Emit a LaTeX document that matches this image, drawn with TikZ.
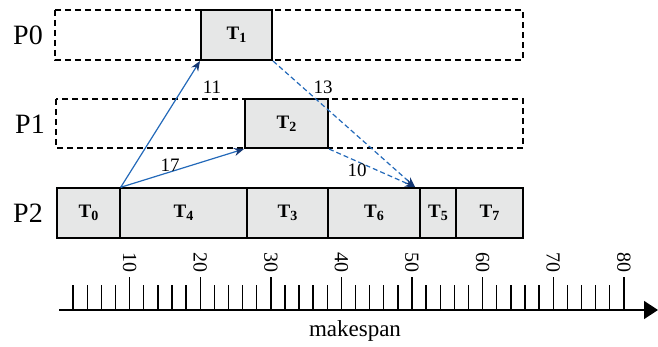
\documentclass[tikz,border=0pt]{standalone}
\usepackage{fontspec}
\setmainfont{Liberation Serif}
\usetikzlibrary{arrows.meta}

\definecolor{arcblue}{RGB}{35,105,185}
\definecolor{tipblue}{RGB}{20,55,115}
\definecolor{taskgray}{RGB}{230,231,231}

\newcommand{\tk}[1]{\textbf{T\raisebox{-0.35ex}{\fontsize{7}{8}\selectfont #1}}}

\tikzset{
  slot/.style={draw, dashed, dash pattern=on 3pt off 2pt, line width=0.7pt},
  task/.style={draw, fill=taskgray, line width=0.7pt, minimum height=25pt,
    inner sep=0pt, font=\fontsize{9.5}{10}\selectfont},
  hot/.style={task, line width=1pt},
  proc/.style={font=\fontsize{14}{16}\selectfont},
  comm/.style={arcblue, line width=0.6pt, -{Stealth[length=5pt, width=4pt, color=tipblue, fill=tipblue]}},
  commd/.style={comm, dash pattern=on 2.5pt off 1.5pt},
  cost/.style={font=\fontsize{9.5}{10}\selectfont, inner sep=1pt},
  ticklab/.style={font=\fontsize{10}{11}\selectfont, rotate=-90, inner sep=0pt}
}

\begin{document}
\begin{tikzpicture}[x=0.5pt, y=-0.5pt] % one unit = one pixel of the reference
  \useasboundingbox (0,0) rectangle (658,347);

  % processor rows
  \draw[slot] (55,10) rectangle (523,60);
  \draw[slot] (56,99) rectangle (523,148);
  \node[proc] (p0) at (28,35) {P0};
  \node[proc] (p1) at (30,124) {P1};
  \node[proc] (p2) at (28,213) {P2};

  % tasks
  \node[hot, minimum width=35.5pt] (t1) at (236.5,35) {\tk{1}};
  \node[hot, minimum width=41.5pt, minimum height=24.5pt] (t2) at (286.5,123.5) {\tk{2}};
  \node[task, minimum width=31.5pt] (t0) at (88.5,213) {\tk{0}};
  \node[task, minimum width=63.5pt] (t4) at (183.5,213) {\tk{4}};
  \node[task, minimum width=40.5pt] (t3) at (287.5,213) {\tk{3}};
  \node[hot, minimum width=46pt] (t6) at (374,213) {\tk{6}};
  \node[task, minimum width=18pt] (t5) at (438,213) {\tk{5}};
  \node[task, minimum width=33.5pt] (t7) at (489.5,213) {\tk{7}};

  % communications
  \coordinate (in6) at ([xshift=-3pt]t6.north east);
  \draw[comm] (t0.north east) -- (t1.south west);
  \draw[comm] (t0.north east) -- (t2.south west);
  \draw[commd] (t1.south east) -- (in6);
  \draw[commd] (t2.south east) -- (in6);
  \node[cost] (c11) at (212,87) {11};
  \node[cost] (c17) at (170,165) {17};
  \node[cost] (c13) at (323,87) {13};
  \node[cost] (c10) at (357,170) {10};

  % time axis
  \coordinate (o) at (59,310);
  \coordinate (e) at (658,310);
  \draw[line width=0.75pt, -{Triangle[length=7pt, width=9pt]}] (o) -- (e);
  \foreach \k in {2,4,...,80} {
    \pgfmathsetmacro{\xk}{59+7.06*\k}
    \ifnum\numexpr\k-10*(\k/10)\relax=0
      \draw[line width=0.7pt] (\xk,277) -- (\xk,310);
      \node[ticklab] at (\xk,263) {\k};
    \else
      \draw[line width=0.7pt] (\xk,285) -- (\xk,310);
    \fi
  }
  \node[font=\fontsize{11.5}{13}\selectfont] (ms) at (355,331) {makespan};
\end{tikzpicture}
\end{document}
